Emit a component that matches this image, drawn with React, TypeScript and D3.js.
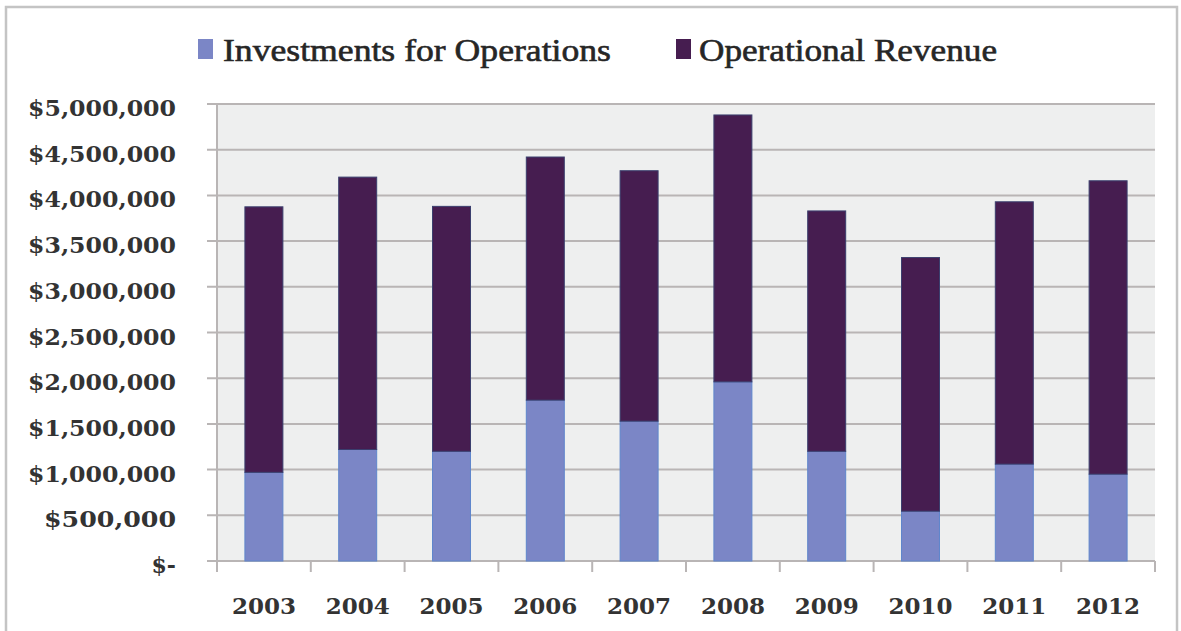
import React from "react";
import * as d3 from "d3";

const years = ["2003", "2004", "2005", "2006", "2007", "2008", "2009", "2010", "2011", "2012"];
const investments = [970000, 1220000, 1200000, 1760000, 1530000, 1960000, 1200000, 545000, 1060000, 950000];
const revenue = [2905000, 2980000, 2680000, 2660000, 2740000, 2920000, 2630000, 2775000, 2870000, 3210000];
const yTicks = [0, 500000, 1000000, 1500000, 2000000, 2500000, 3000000, 3500000, 4000000, 4500000, 5000000];
const seriesNames = ["Investments for Operations", "Operational Revenue"];
const seriesColors = ["#7b86c6", "#461d50"];
const seriesStrokes = ["#5f86cc", "#3b3f6e"];

const W = 1181;
const H = 631;
const left = 217;
const right = 1155;
const top = 104;
const bottom = 561;

const fmt = (v: number) => (v === 0 ? "$-" : "$" + d3.format(",")(v));

export default function App() {
  const x = d3.scaleBand<string>().domain(years).range([left, right]).paddingInner(0.595).paddingOuter(0.2975);
  const y = d3.scaleLinear().domain([0, 5000000]).range([bottom, top]);
  const band = (right - left) / years.length;
  const rows = years.map((yr, i) => ({ yr, inv: investments[i], rev: revenue[i] }));
  const stack = d3.stack<any>().keys(["inv", "rev"])(rows);
  const font = "'DejaVu Serif', 'Liberation Serif', serif";

  return (
    <svg width={W} height={H} style={{ position: "absolute", left: 0, top: 0, background: "#fff" }}>
      <rect x={0} y={0} width={W} height={H} fill="#ffffff" />
      <rect x={6} y={7} width={1171} height={640} fill="#ffffff" stroke="#c4c4c4" strokeWidth={2.5} />
      <rect x={left} y={top} width={right - left} height={bottom - top} fill="#eeefef" />
      {yTicks.map((t) => (
        <line key={"g" + t} x1={left - 10} x2={right} y1={y(t)} y2={y(t)} stroke="#b9b5b5" strokeWidth={2} />
      ))}
      <line x1={left} x2={left} y1={top} y2={bottom} stroke="#b9b5b5" strokeWidth={2} />
      {d3.range(years.length + 1).map((i) => (
        <line key={"xt" + i} x1={left + i * band} x2={left + i * band} y1={bottom} y2={bottom + 11} stroke="#b9b5b5" strokeWidth={2} />
      ))}
      {stack.map((s, si) =>
        s.map((d, i) => (
          <rect
            key={si + "-" + i}
            x={x(years[i])}
            y={y(d[1])}
            width={x.bandwidth()}
            height={y(d[0]) - y(d[1])}
            fill={seriesColors[si]}
            stroke={seriesStrokes[si]}
            strokeWidth={1}
          />
        ))
      )}
      {yTicks.map((t) => (
        <text
          key={"yl" + t}
          x={176}
          y={y(t) + 4}
          textAnchor="end"
          dominantBaseline="central"
          fontFamily={font}
          fontWeight="bold"
          fontSize={22}
          fill="#333333"
          textLength={t === 0 ? undefined : t >= 1000000 ? 148 : 132}
          lengthAdjust="spacingAndGlyphs"
        >
          {fmt(t)}
        </text>
      ))}
      {years.map((yr) => (
        <text
          key={"xl" + yr}
          x={(x(yr) as number) + x.bandwidth() / 2}
          y={614}
          textAnchor="middle"
          fontFamily={font}
          fontWeight="bold"
          fontSize={23}
          fill="#333333"
        >
          {yr}
        </text>
      ))}
      <rect x={198} y={39} width={15} height={20} fill={seriesColors[0]} />
      <text x={223} y={61} fontFamily="'Liberation Serif', serif" fontSize={31} fill="#262626" stroke="#262626" strokeWidth={0.6} textLength={388} lengthAdjust="spacingAndGlyphs">
        {seriesNames[0]}
      </text>
      <rect x={676} y={39} width={15} height={20} fill={seriesColors[1]} />
      <text x={699} y={61} fontFamily="'Liberation Serif', serif" fontSize={31} fill="#262626" stroke="#262626" strokeWidth={0.6} textLength={298} lengthAdjust="spacingAndGlyphs">
        {seriesNames[1]}
      </text>
    </svg>
  );
}
